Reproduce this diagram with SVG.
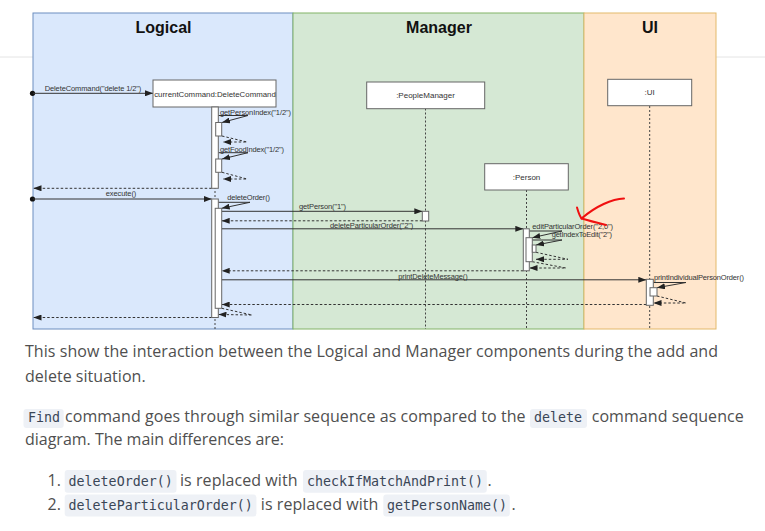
<svg xmlns="http://www.w3.org/2000/svg" width="765" height="531" viewBox="0 0 765 531">
<style>
.lane-title{font-family:"Liberation Sans",Arial,sans-serif;font-size:16px;font-weight:bold;fill:#111;text-anchor:middle}
.box{fill:#fff;stroke:#666;stroke-width:1}
.bt{font-family:"Liberation Sans",Arial,sans-serif;font-size:8px;fill:#333;text-anchor:middle}
.lbl{font-family:"Liberation Sans",Arial,sans-serif;font-size:7.5px;fill:#333}
.life{stroke:#444;stroke-width:1;stroke-dasharray:2 2;fill:none}
.act{fill:#fff;stroke:#666;stroke-width:1}
.msg{stroke:#333;stroke-width:1;fill:none;marker-end:url(#arr)}
.ret{stroke:#333;stroke-width:1;fill:none;stroke-dasharray:2.5 2;marker-end:url(#arr)}
.body{font-family:"Open Sans","Noto Sans",sans-serif;font-size:16px;fill:#4f4f4f}
.code{font-family:"DejaVu Sans Mono","Liberation Mono",monospace;font-size:13.3px;fill:#3a4656}
.cbg{fill:#eef1f6}
</style>
<defs>
<marker id="arr" viewBox="0 0 8 6" refX="8" refY="3" markerWidth="8" markerHeight="6" orient="auto" markerUnits="userSpaceOnUse"><path d="M0,0 L8,3 L0,6 z" fill="#222"/></marker>
</defs>
<rect width="765" height="531" fill="#fff"/>
<line x1="0" y1="57" x2="765" y2="57" stroke="#e4e4e4" stroke-width="1"/>

<g id="lane-logical">
<rect x="33" y="13" width="260" height="316" fill="#dae8fc" stroke="#6c8ebf" stroke-width="1"/>
<text class="lane-title" x="163.5" y="33">Logical</text>
</g>
<g id="lane-manager">
<rect x="293" y="13" width="291" height="316" fill="#d5e8d4" stroke="#82b366" stroke-width="1"/>
<text class="lane-title" x="439" y="33">Manager</text>
</g>
<g id="lane-ui">
<rect x="584" y="13" width="132" height="316" fill="#ffe6cc" stroke="#e3b96a" stroke-width="1"/>
<text class="lane-title" x="650" y="33">UI</text>
</g>

<g id="connectors">
<line class="life" x1="215" y1="107" x2="215" y2="329"/>
<line class="life" x1="425.5" y1="108.5" x2="425.5" y2="329"/>
<line class="life" x1="526.5" y1="190" x2="526.5" y2="329"/>
<line class="life" x1="649.7" y1="106" x2="649.7" y2="329"/>

<circle cx="32.5" cy="93.3" r="2.6" fill="#111"/>
<line class="msg" x1="33" y1="93.3" x2="153" y2="93.3"/>
<text class="lbl" x="44.7" y="91" textLength="96.6">DeleteCommand("delete 1/2")</text>

<circle cx="32.5" cy="199" r="2.6" fill="#111"/>
<line class="msg" x1="33" y1="199" x2="211.7" y2="199"/>
<text class="lbl" x="105.7" y="195.8" textLength="30.6">execute()</text>

<polyline class="msg" points="218.3,115.5 248,115.5 222,122.5"/>
<text class="lbl" x="220" y="114.8" textLength="71">getPersonIndex("1/2")</text>
<polyline class="ret" points="222,136 247,142 223,142"/>

<polyline class="msg" points="218.3,152.7 248,152.7 222,159"/>
<text class="lbl" x="220" y="151.5" textLength="64">getFoodIndex("1/2")</text>
<polyline class="ret" points="222,172.3 247,179 223,179"/>

<line class="ret" x1="211.7" y1="188.3" x2="33.5" y2="188.3"/>

<polyline class="msg" points="218.3,202.3 250,202.3 221.7,208.3"/>
<text class="lbl" x="227.3" y="200.2" textLength="42.7">deleteOrder()</text>

<line class="msg" x1="221.7" y1="211.3" x2="422.3" y2="211.3"/>
<text class="lbl" x="299" y="208.5" textLength="47">getPerson("1")</text>
<line class="ret" x1="422.3" y1="220.8" x2="221.7" y2="220.8"/>

<line class="msg" x1="221.7" y1="228.8" x2="523.3" y2="228.8"/>
<text class="lbl" x="330" y="227.5" textLength="83.3">deleteParticularOrder("2")</text>

<polyline class="msg" points="529.3,231 562,231 532.3,237.7"/>
<text class="lbl" x="532.3" y="229.2" textLength="80.7">editParticularOrder("2,0")</text>
<polyline class="msg" points="532.3,240 562,240 536,245"/>
<text class="lbl" x="551.7" y="236.8" textLength="60.3">getIndexToEdit("2")</text>
<polyline class="ret" points="536,252.3 568,259.3 536,259.3"/>
<polyline class="ret" points="532.3,261.7 566,268 529.5,268"/>

<line class="ret" x1="523.3" y1="270.8" x2="221.7" y2="270.8"/>

<line class="msg" x1="221.7" y1="279.8" x2="646.3" y2="279.8"/>
<text class="lbl" x="398.3" y="279.2" textLength="69.4">printDeleteMessage()</text>

<polyline class="msg" points="653.3,282.5 686,282.5 657,287.7"/>
<text class="lbl" x="654" y="280.2" textLength="90">printIndividualPersonOrder()</text>
<polyline class="ret" points="657,296 686,303 653.5,303"/>

<line class="ret" x1="646.3" y1="304.5" x2="221.7" y2="304.5"/>

<polyline class="ret" points="221.7,308.3 252,315 218.5,314.5"/>

<line class="ret" x1="211.7" y1="317.5" x2="33.5" y2="317.5"/>
</g>

<g id="currentCommand">
<rect class="box" x="153" y="80" width="123" height="27"/>
<text class="bt" x="215" y="96.5" textLength="121.6" lengthAdjust="spacingAndGlyphs">currentCommand:DeleteCommand</text>
</g>
<g id="currentCommand-activation-1">
<rect class="act" x="211.7" y="107" width="6.6" height="81.3"/>
<rect class="act" x="215.7" y="122.5" width="6" height="13.5"/>
<rect class="act" x="215.7" y="159" width="6" height="13.3"/>
</g>
<g id="currentCommand-activation-2">
<rect class="act" x="211.7" y="199" width="6.6" height="118.5"/>
<rect class="act" x="215.2" y="208.3" width="6.5" height="100"/>
</g>
<g id="peopleManager">
<rect class="box" x="366.7" y="82" width="118" height="26.7"/>
<text class="bt" x="425.5" y="98.3">:PeopleManager</text>
<rect class="act" x="422.3" y="211.3" width="6.4" height="9.7"/>
</g>
<g id="person">
<rect class="box" x="484.7" y="163.7" width="83.6" height="26.3"/>
<text class="bt" x="526.5" y="179.8">:Person</text>
<rect class="act" x="523.3" y="228.8" width="6" height="42"/>
<rect class="act" x="526" y="237.7" width="6.3" height="24"/>
<rect class="act" x="532.3" y="245" width="3.7" height="7.3"/>
</g>
<g id="ui">
<rect class="box" x="607.7" y="79.3" width="84" height="26.4"/>
<text class="bt" x="649.7" y="95.3">:UI</text>
<rect class="act" x="646.3" y="279.3" width="7" height="26"/>
<rect class="act" x="650" y="287.7" width="7" height="8.3"/>
</g>

<g id="annotation" fill="none" stroke="#f01010" stroke-width="2" stroke-linecap="round" stroke-linejoin="round">
<path d="M624,198.5 C612,199 596,206 581.5,218.5"/>
<path d="M577,207.5 C578,211 579,215 581.5,218.5 C590,221 598,223 606,225"/>
</g>

<g id="text">
<text class="body" x="25" y="357.3" textLength="693">This show the interaction between the Logical and Manager components during the add and</text>
<text class="body" x="25" y="381.7" textLength="120.6">delete situation.</text>

<rect class="cbg" x="23.5" y="409" width="40.2" height="19" rx="3"/>
<text class="code" x="28" y="422">Find</text>
<text class="body" x="65" y="421.7" textLength="460.5">command goes through similar sequence as compared to the</text>
<rect class="cbg" x="530" y="409" width="57" height="19" rx="3"/>
<text class="code" x="534" y="422">delete</text>
<text class="body" x="591.7" y="421.7" textLength="152">command sequence</text>
<text class="body" x="25" y="445" textLength="259">diagram. The main differences are:</text>

<text class="body" x="47.5" y="486">1.</text>
<rect class="cbg" x="64.7" y="470" width="111.8" height="22.7" rx="3"/>
<text class="code" x="68.6" y="486">deleteOrder()</text>
<text class="body" x="180" y="486" textLength="117.5">is replaced with</text>
<rect class="cbg" x="303" y="470" width="183.8" height="22.7" rx="3"/>
<text class="code" x="307" y="486">checkIfMatchAndPrint()</text>
<text class="body" x="487.5" y="486">.</text>

<text class="body" x="47.5" y="510">2.</text>
<rect class="cbg" x="64.7" y="494.5" width="191.7" height="22" rx="3"/>
<text class="code" x="68.6" y="510">deleteParticularOrder()</text>
<text class="body" x="260.8" y="510" textLength="117.6">is replaced with</text>
<rect class="cbg" x="383.3" y="494.5" width="126.5" height="22" rx="3"/>
<text class="code" x="387" y="510">getPersonName()</text>
<text class="body" x="511.5" y="510">.</text>
</g>
</svg>
